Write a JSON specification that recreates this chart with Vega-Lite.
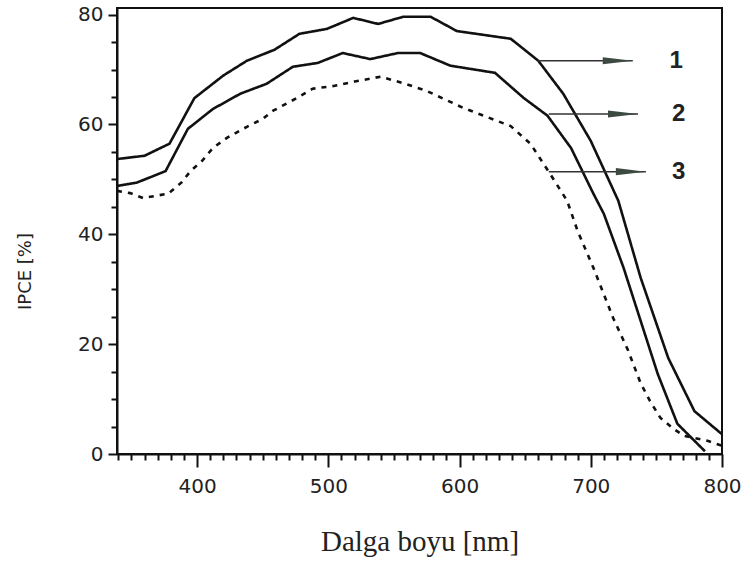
{
  "$schema": "https://vega.github.io/schema/vega-lite/v6.json",
  "autosize": "none",
  "width": 605,
  "height": 446,
  "padding": {"left": 117, "top": 8, "right": 28, "bottom": 110},
  "background": "white",
  "config": {
    "view": {"stroke": "#111", "strokeWidth": 2},
    "axis": {"domainColor": "#111", "domainWidth": 2, "tickColor": "#111", "tickWidth": 2, "grid": false, "labelColor": "#222", "titleColor": "#222"}
  },
  "datasets": {
    "curves": [
      {"series": "1", "nm": 339, "ipce": 53.7}, {"series": "1", "nm": 360, "ipce": 54.3}, {"series": "1", "nm": 379, "ipce": 56.5},
      {"series": "1", "nm": 398, "ipce": 64.8}, {"series": "1", "nm": 420, "ipce": 68.9}, {"series": "1", "nm": 438, "ipce": 71.6},
      {"series": "1", "nm": 459, "ipce": 73.6}, {"series": "1", "nm": 478, "ipce": 76.5}, {"series": "1", "nm": 499, "ipce": 77.4},
      {"series": "1", "nm": 519, "ipce": 79.4}, {"series": "1", "nm": 538, "ipce": 78.3}, {"series": "1", "nm": 557, "ipce": 79.6},
      {"series": "1", "nm": 578, "ipce": 79.6}, {"series": "1", "nm": 598, "ipce": 77.0}, {"series": "1", "nm": 639, "ipce": 75.6},
      {"series": "1", "nm": 660, "ipce": 71.6}, {"series": "1", "nm": 679, "ipce": 65.6}, {"series": "1", "nm": 700, "ipce": 57.0},
      {"series": "1", "nm": 721, "ipce": 46.1}, {"series": "1", "nm": 738, "ipce": 32.1}, {"series": "1", "nm": 759, "ipce": 17.5},
      {"series": "1", "nm": 779, "ipce": 7.8}, {"series": "1", "nm": 800, "ipce": 3.6},
      {"series": "2", "nm": 339, "ipce": 48.8}, {"series": "2", "nm": 354, "ipce": 49.4}, {"series": "2", "nm": 376, "ipce": 51.5},
      {"series": "2", "nm": 393, "ipce": 59.2}, {"series": "2", "nm": 412, "ipce": 62.8}, {"series": "2", "nm": 433, "ipce": 65.6},
      {"series": "2", "nm": 453, "ipce": 67.4}, {"series": "2", "nm": 473, "ipce": 70.5}, {"series": "2", "nm": 492, "ipce": 71.2},
      {"series": "2", "nm": 511, "ipce": 73.0}, {"series": "2", "nm": 532, "ipce": 71.9}, {"series": "2", "nm": 553, "ipce": 73.0},
      {"series": "2", "nm": 570, "ipce": 73.0}, {"series": "2", "nm": 593, "ipce": 70.7}, {"series": "2", "nm": 627, "ipce": 69.4},
      {"series": "2", "nm": 649, "ipce": 64.8}, {"series": "2", "nm": 667, "ipce": 61.6}, {"series": "2", "nm": 685, "ipce": 55.7},
      {"series": "2", "nm": 702, "ipce": 47.4}, {"series": "2", "nm": 710, "ipce": 43.7}, {"series": "2", "nm": 725, "ipce": 33.9},
      {"series": "2", "nm": 751, "ipce": 14.6}, {"series": "2", "nm": 766, "ipce": 5.5}, {"series": "2", "nm": 787, "ipce": 0.5},
      {"series": "3", "nm": 339, "ipce": 47.9}, {"series": "3", "nm": 349, "ipce": 47.5}, {"series": "3", "nm": 359, "ipce": 46.6},
      {"series": "3", "nm": 378, "ipce": 47.4}, {"series": "3", "nm": 388, "ipce": 49.4}, {"series": "3", "nm": 395, "ipce": 51.5},
      {"series": "3", "nm": 404, "ipce": 53.4}, {"series": "3", "nm": 412, "ipce": 55.7}, {"series": "3", "nm": 423, "ipce": 57.6},
      {"series": "3", "nm": 439, "ipce": 59.7}, {"series": "3", "nm": 450, "ipce": 61.0}, {"series": "3", "nm": 458, "ipce": 62.5},
      {"series": "3", "nm": 476, "ipce": 64.8}, {"series": "3", "nm": 488, "ipce": 66.5}, {"series": "3", "nm": 504, "ipce": 67.0},
      {"series": "3", "nm": 520, "ipce": 67.8}, {"series": "3", "nm": 540, "ipce": 68.7}, {"series": "3", "nm": 560, "ipce": 67.3},
      {"series": "3", "nm": 575, "ipce": 66.1}, {"series": "3", "nm": 603, "ipce": 63.0}, {"series": "3", "nm": 639, "ipce": 59.7},
      {"series": "3", "nm": 654, "ipce": 56.5}, {"series": "3", "nm": 669, "ipce": 51.0}, {"series": "3", "nm": 682, "ipce": 46.1},
      {"series": "3", "nm": 690, "ipce": 40.6}, {"series": "3", "nm": 702, "ipce": 33.9}, {"series": "3", "nm": 717, "ipce": 24.8},
      {"series": "3", "nm": 728, "ipce": 19.1}, {"series": "3", "nm": 738, "ipce": 12.9}, {"series": "3", "nm": 745, "ipce": 9.7},
      {"series": "3", "nm": 753, "ipce": 6.6}, {"series": "3", "nm": 763, "ipce": 4.6}, {"series": "3", "nm": 771, "ipce": 3.3},
      {"series": "3", "nm": 789, "ipce": 2.4}, {"series": "3", "nm": 800, "ipce": 1.5}
    ],
    "arrows": [
      {"label": "1", "x1": 659.5, "x2": 732, "y": 71.6, "lx": 765},
      {"label": "2", "x1": 668, "x2": 736, "y": 61.9, "lx": 767},
      {"label": "3", "x1": 668, "x2": 742, "y": 51.4, "lx": 767}
    ]
  },
  "layer": [
    {
      "data": {"name": "curves"},
      "mark": {"type": "line", "strokeWidth": 2.6, "color": "#111", "clip": true},
      "encoding": {
        "x": {"field": "nm", "type": "quantitative",
          "scale": {"domain": [339, 800], "nice": false, "zero": false},
          "axis": {
            "values": [340,350,360,370,380,390,400,410,420,430,440,450,460,470,480,490,500,510,520,530,540,550,560,570,580,590,600,610,620,630,640,650,660,670,680,690,700,710,720,730,740,750,760,770,780,790,800],
            "tickCount": 200,
            "format": "d",
            "labelExpr": "datum.value % 100 === 0 ? datum.label : ''",
            "labelOverlap": false,
            "labelFlush": false,
            "labelFont": "DejaVu Sans", "labelFontSize": 20, "labelPadding": 9,
            "tickSize": {"condition": {"test": "datum.value % 100 === 0", "value": 13}, "value": 6},
            "title": "Dalga boyu [nm]", "titleFont": "Liberation Serif", "titleFontSize": 29, "titleFontWeight": "normal",
            "titleX": 302.5, "titleY": 87, "titleBaseline": "middle", "titleAnchor": "middle"
          }
        },
        "y": {"field": "ipce", "type": "quantitative",
          "scale": {"domain": [0, 81.2], "nice": false},
          "axis": {
            "values": [0,5,10,15,20,25,30,35,40,45,50,55,60,65,70,75,80],
            "tickCount": 200,
            "format": "d",
            "labelExpr": "datum.value % 20 === 0 ? datum.label : ''",
            "labelOverlap": false,
            "labelFont": "DejaVu Sans", "labelFontSize": 20, "labelPadding": 5,
            "tickSize": {"condition": {"test": "datum.value % 20 === 0", "value": 9}, "value": 6},
            "title": "IPCE [%]", "titleFont": "DejaVu Sans", "titleFontSize": 18, "titleFontWeight": "normal",
            "titleX": -92, "titleY": 263, "titleAngle": -90, "titleBaseline": "middle", "titleAnchor": "middle"
          }
        },
        "detail": {"field": "series"},
        "strokeDash": {"field": "series", "type": "nominal",
          "scale": {"domain": ["1", "2", "3"], "range": [[1, 0], [1, 0], [5, 6]]}, "legend": null}
      }
    },
    {
      "data": {"name": "arrows"},
      "mark": {"type": "rule", "strokeWidth": 1.5, "color": "#333"},
      "encoding": {
        "x": {"field": "x1", "type": "quantitative"},
        "x2": {"field": "x2"},
        "y": {"field": "y", "type": "quantitative"}
      }
    },
    {
      "data": {"name": "arrows"},
      "mark": {"type": "point", "shape": "M -2 -0.24 L 0 0 L -2 0.24 Z", "size": 900, "filled": true, "color": "#3d4a42", "opacity": 1},
      "encoding": {
        "x": {"field": "x2", "type": "quantitative"},
        "y": {"field": "y", "type": "quantitative"}
      }
    },
    {
      "data": {"name": "arrows"},
      "mark": {"type": "text", "font": "Liberation Sans", "fontWeight": "bold", "fontSize": 24, "color": "#222", "align": "center", "baseline": "middle"},
      "encoding": {
        "x": {"field": "lx", "type": "quantitative"},
        "y": {"field": "y", "type": "quantitative"},
        "text": {"field": "label"}
      }
    }
  ]
}
